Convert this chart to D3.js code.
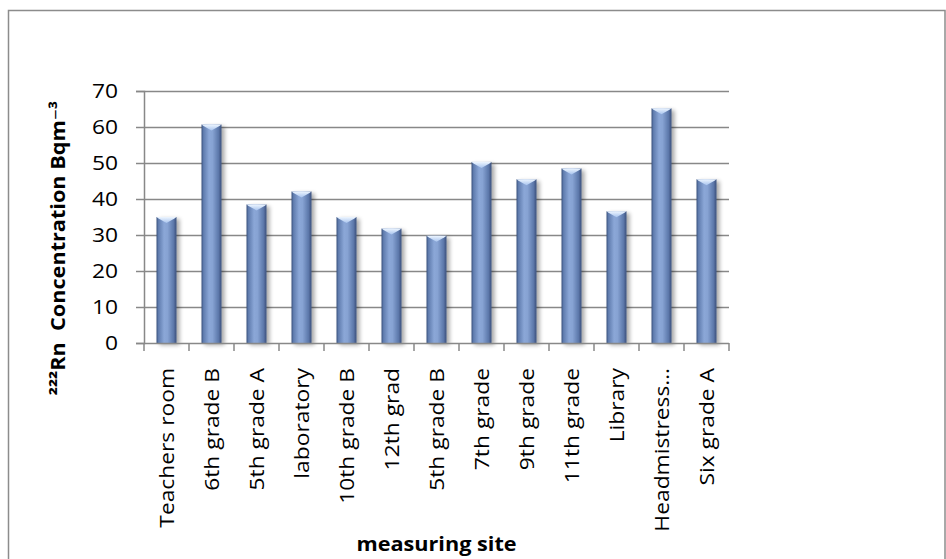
<!DOCTYPE html>
<html>
<head>
<meta charset="utf-8">
<script src="https://cdn.jsdelivr.net/npm/d3@7"></script>
<style>
  html, body { margin: 0; padding: 0; background: #fff; }
  svg { display: block; }
  text { font-family: "Open Sans", "DejaVu Sans", sans-serif; fill: #000; }
</style>
</head>
<body>
<svg id="chart" width="946" height="559"></svg>
<script>
// Radon concentration per measuring site
const sites = ["Teachers room", "6th grade B", "5th grade A", "laboratory", "10th grade B",
  "12th grad", "5th grade B", "7th grade", "9th grade", "11th grade", "Library",
  "Headmistress…", "Six grade A"];
const radon = [35, 60.7, 38.5, 42.1, 35, 31.8, 29.8, 50.3, 45.5, 48.5, 36.6, 65.2, 45.5];
const yTicks = [0, 10, 20, 30, 40, 50, 60, 70];

const svg = d3.select("#chart");
const margin = { left: 144, right: 217, top: 91, bottom: 216 };
const W = 946, H = 559;
const x0 = margin.left, x1 = W - margin.right, y0 = H - margin.bottom, y1 = margin.top;
const WIDE = 1.14; // horizontal glyph stretch of the chart lettering

const x = d3.scaleBand().domain(sites).range([x0, x1]).paddingInner(0.556).paddingOuter(0.278);
const y = d3.scaleLinear().domain([0, 70]).range([y0, y1]);

// outer chart frame
svg.append("rect").attr("x", 8.5).attr("y", 10.5).attr("width", 936.5).attr("height", 560)
  .attr("fill", "none").attr("stroke", "#8c8c8c").attr("stroke-width", 1.5);

const defs = svg.append("defs");
const grad = defs.append("linearGradient").attr("id", "barGrad").attr("x1", 0).attr("x2", 1).attr("y1", 0).attr("y2", 0);
[[0, "#3a507c"], [0.1, "#5f7cae"], [0.38, "#8ba7d7"], [0.55, "#87a3d3"], [0.85, "#5d78aa"], [1, "#3a4f7b"]]
  .forEach(([o, c]) => grad.append("stop").attr("offset", o).attr("stop-color", c));
const capGrad = defs.append("linearGradient").attr("id", "capGrad").attr("x1", 0).attr("x2", 0).attr("y1", 0).attr("y2", 1);
capGrad.append("stop").attr("offset", 0).attr("stop-color", "#eef6ff");
capGrad.append("stop").attr("offset", 1).attr("stop-color", "#a8c4ee");
const shadow = defs.append("filter").attr("id", "barShadow").attr("x", "-50%").attr("y", "-10%").attr("width", "200%").attr("height", "130%");
shadow.append("feGaussianBlur").attr("in", "SourceAlpha").attr("stdDeviation", 2.2).attr("result", "b");
shadow.append("feOffset").attr("in", "b").attr("dx", 2.5).attr("dy", 2).attr("result", "o");
shadow.append("feComponentTransfer").attr("in", "o").attr("result", "s")
  .append("feFuncA").attr("type", "linear").attr("slope", 0.35);
const merge = shadow.append("feMerge");
merge.append("feMergeNode").attr("in", "s");
merge.append("feMergeNode").attr("in", "SourceGraphic");

// horizontal gridlines
svg.append("g").selectAll("line").data(yTicks.filter(d => d > 0)).join("line")
  .attr("x1", x0).attr("x2", x1)
  .attr("y1", d => Math.round(y(d)) + 0.5).attr("y2", d => Math.round(y(d)) + 0.5)
  .attr("stroke", "#888").attr("stroke-width", 1.5);

// y axis (line and ticks from d3, labels placed below)
const yAxis = d3.axisLeft(y).tickValues(yTicks).tickSize(8).tickFormat("");
const gy = svg.append("g").attr("transform", `translate(${x0},0)`).call(yAxis);
gy.select(".domain").attr("stroke", "#888").attr("stroke-width", 1.5);
gy.selectAll(".tick line").attr("stroke", "#888").attr("stroke-width", 1.5);
svg.append("g").selectAll("text").data(yTicks).join("text")
  .attr("transform", d => `translate(${x0 - 26},${y(d)}) scale(${WIDE},1)`)
  .attr("text-anchor", "end").attr("dy", "0.36em").attr("font-size", 20)
  .text(d => d);

// bars
const bars = svg.append("g").selectAll("g").data(sites).join("g");
bars.append("rect")
  .attr("x", d => x(d)).attr("width", x.bandwidth())
  .attr("y", (d, i) => y(radon[i])).attr("height", (d, i) => y0 - y(radon[i]))
  .attr("fill", "url(#barGrad)").attr("filter", "url(#barShadow)");
bars.append("path")
  .attr("d", (d, i) => {
    const l = x(d), r = l + x.bandwidth(), t = y(radon[i]), m = l + x.bandwidth() / 2;
    return `M${l},${t}L${r},${t}L${r - 2},${t + 1.5}L${m},${t + 6}L${l + 2},${t + 1.5}Z`;
  })
  .attr("fill", "url(#capGrad)");

// x axis
const bounds = sites.map(s => x(s) - x.step() * x.paddingInner() / 2).concat([x1]);
svg.append("line").attr("x1", x0).attr("x2", x1).attr("y1", y0 + 0.5).attr("y2", y0 + 0.5)
  .attr("stroke", "#888").attr("stroke-width", 1.5);
svg.append("g").selectAll("line").data(bounds).join("line")
  .attr("x1", d => d).attr("x2", d => d).attr("y1", y0).attr("y2", y0 + 8)
  .attr("stroke", "#888").attr("stroke-width", 1.5);
svg.append("g").selectAll("text").data(sites).join("text")
  .attr("transform", d => `translate(${x(d) + x.bandwidth() / 2},${y0 + 25}) rotate(-90) scale(${WIDE},1)`)
  .attr("text-anchor", "end").attr("dy", "0.36em")
  .attr("font-size", 20)
  .text(d => d);

// axis titles
svg.append("text").attr("transform", `translate(${(x0 + x1) / 2},551) scale(${WIDE},1)`)
  .attr("text-anchor", "middle")
  .attr("font-size", 19).attr("font-weight", "bold").text("measuring site");
svg.append("text").attr("transform", `translate(65,248) rotate(-90) scale(${WIDE},1)`)
  .attr("text-anchor", "middle").attr("font-size", 19).attr("font-weight", "bold")
  .style("white-space", "pre")
  .text("²²²Rn  Concentration Bqm⁻³");
</script>
</body>
</html>
